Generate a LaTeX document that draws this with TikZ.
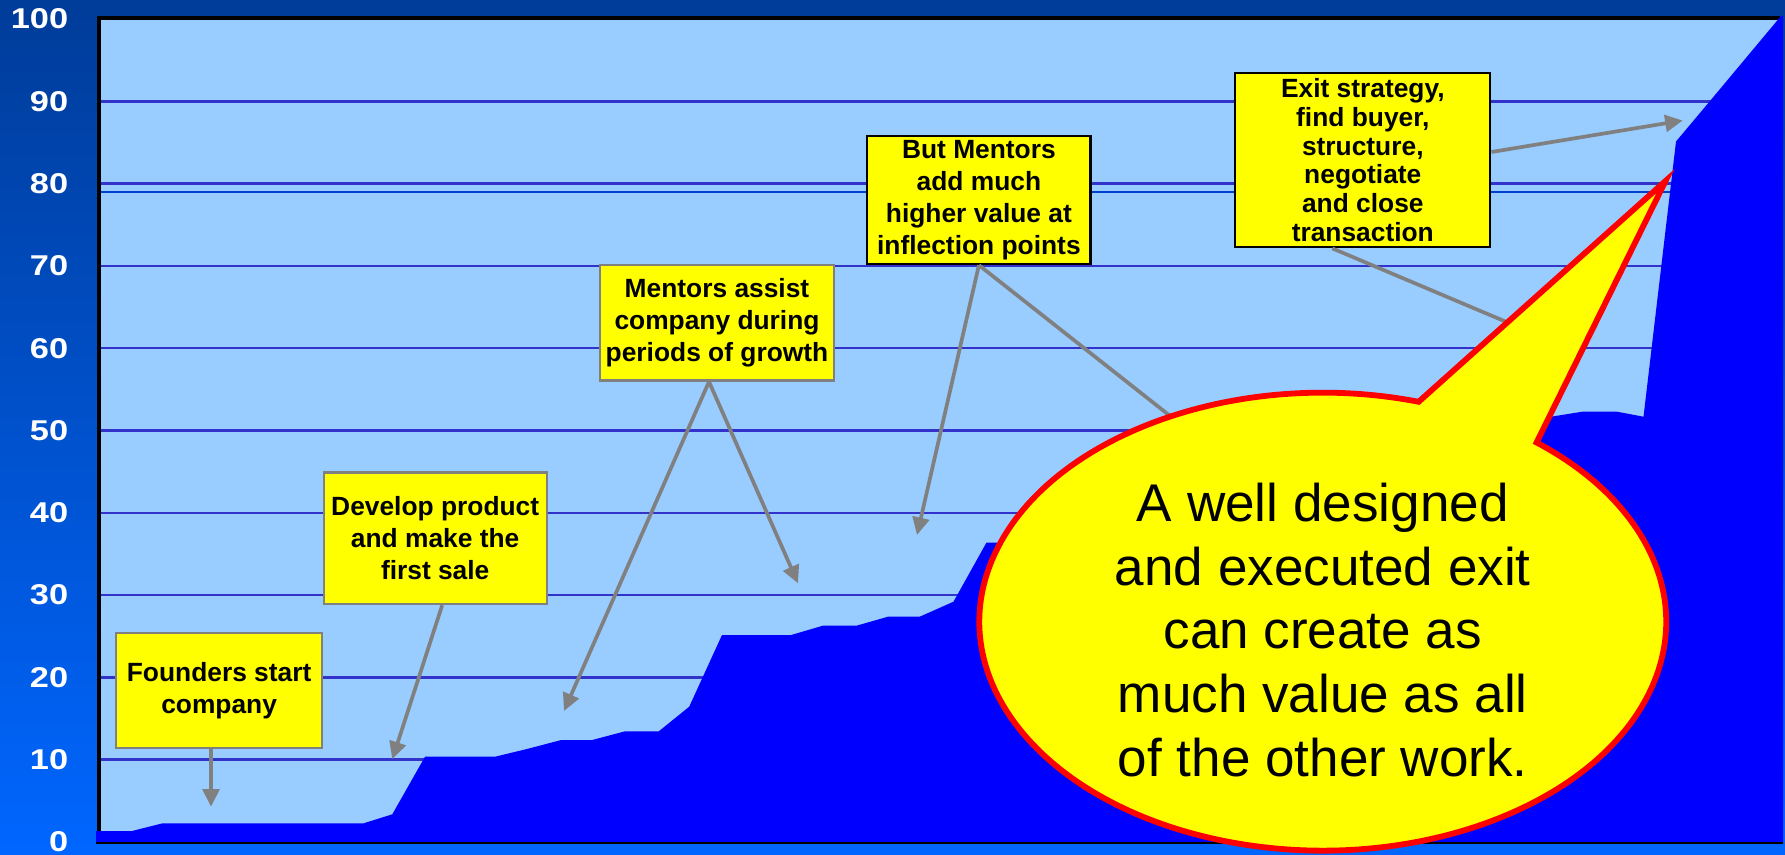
\documentclass[tikz,border=0pt]{standalone}
\usepackage{fontspec}
\usepackage{graphicx}
\setmainfont{Liberation Sans}
\usetikzlibrary{arrows.meta}

\definecolor{bgtop}{HTML}{003C99}
\definecolor{bgbottom}{HTML}{0066FF}
\definecolor{plotfill}{HTML}{99CCFF}
\definecolor{gridblue}{HTML}{3333CC}
\definecolor{thinblue}{HTML}{0040CC}
\definecolor{valuefill}{HTML}{0000FF}
\definecolor{notefill}{HTML}{FFFF00}
\definecolor{pointergray}{HTML}{808080}

% axis digits are set horizontally stretched
\newcommand{\widedigits}[1]{\scalebox{1.2}[1]{#1}}

\tikzset{
  axislabel/.style={anchor=east, inner sep=0pt, text=white,
    font=\bfseries\fontsize{16.3}{18}\selectfont},
  gridline/.style={draw=gridblue, line width=1.4pt},
  notebox/.style={draw=pointergray, fill=notefill, line width=1.3pt,
    align=center, inner sep=0pt,
    font=\bfseries\fontsize{15}{18.2}\selectfont},
  darkbox/.style={notebox, draw=black},
  pointer/.style={draw=pointergray, line width=2.1pt,
    -{Triangle[length=10pt,width=9.5pt]}},
  bubble/.style={fill=notefill, draw=red, line width=3.3pt, line join=miter},
}

\begin{document}
\begin{tikzpicture}[x=0.02cm, y=-0.02cm]
\useasboundingbox (0,0) rectangle (1785,855);

% background and plot area
\shade[top color=bgtop, bottom color=bgbottom] (0,0) rectangle (1785,855);
\fill[plotfill] (99,18) rectangle (1783,843);
\foreach \v in {10,20,...,90}
  \draw[gridline] (101,{842-8.23*\v}) -- (1783,{842-8.23*\v});
\draw[draw=thinblue, line width=0.6pt] (101,192) -- (1783,192);
\draw[line width=2.3pt] (98.9,843) -- (98.9,18) -- (1780,18);

% cumulative value area
\fill[valuefill] (96,843) -- (96,831) -- (132,831) -- (162.6,823.3) -- (363.6,823.3)
  -- (392.3,814.3) -- (425,756.7) -- (495,756.7) -- (527,749) -- (560.5,740.2)
  -- (591.5,740.2) -- (625,731.3) -- (658.8,731.3) -- (689.2,706.7) -- (722,635)
  -- (791.2,635) -- (822.8,625.7) -- (856.5,625.7) -- (888,616.7) -- (919.7,616.7)
  -- (953.5,601.7) -- (986.5,542.5) -- (1020,542.5) -- (1100,500) -- (1200,470)
  -- (1300,450) -- (1400,440) -- (1500,425) -- (1551,416.7) -- (1583.5,411.5)
  -- (1616,411.5) -- (1643.5,416.7) -- (1676,141.5) -- (1710,101) -- (1781,16)
  -- (1783,16) -- (1783,843) -- cycle;
\draw[line width=1.2pt] (96,842.7) -- (1783,842.7);

% value axis labels
\foreach \v in {0,10,...,100}
  \node[axislabel] (y\v) at (68.5,{842-8.23*\v}) {\widedigits{\v}};

% annotation boxes
\node[notebox, minimum width=4.13cm, minimum height=2.31cm] (founders) at (219.1,690.5)
  {Founders start\\company};
\node[notebox, minimum width=4.46cm, minimum height=2.63cm] (develop) at (435.2,538.3)
  {Develop product\\and make the\\first sale};
\node[notebox, minimum width=4.68cm, minimum height=2.31cm] (assist) at (717,322.8)
  {Mentors assist\\company during\\periods of growth};
\node[darkbox, minimum width=4.47cm, minimum height=2.56cm] (inflect) at (978.9,200)
  {But Mentors\\add much\\higher value at\\inflection points};
\node[darkbox, minimum width=5.10cm, minimum height=3.49cm,
  font=\bfseries\fontsize{15}{16.4}\selectfont] (exit) at (1362.8,160)
  {Exit strategy,\\find buyer,\\structure,\\negotiate\\and close\\transaction};

% pointer targets
\coordinate (foundersTip) at (211,806.7);
\coordinate (developTip) at (392.3,759.3);
\coordinate (assistTipA) at (564,711);
\coordinate (assistTipB) at (798,583.3);
\coordinate (inflectTipA) at (917,535);
\coordinate (inflectTipB) at (1250,479);
\coordinate (exitTipA) at (1682.7,120.5);
\coordinate (exitTipB) at (1560,344.6);
\coordinate (bubbleTip) at (1665.5,181);

% pointers
\draw[pointer] (founders.south -| foundersTip) -- (foundersTip);
\draw[pointer] ([xshift=0.14cm]develop.south) -- (developTip);
\draw[pointer] ([xshift=-0.16cm]assist.south) -- (assistTipA);
\draw[pointer] ([xshift=-0.16cm]assist.south) -- (assistTipB);
\draw[pointer] (inflect.south) -- (inflectTipA);
\draw[pointer] (inflect.south) -- (inflectTipB);
\draw[pointer] ([yshift=0.16cm]exit.east) -- (exitTipA);
\draw[pointer] ([xshift=-0.61cm]exit.south) -- (exitTipB);

% speech bubble
\filldraw[bubble] (1418.6,401.8)
  arc[start angle=73.8, end angle=411.5, x radius=6.87cm, y radius=4.58cm]
  -- (bubbleTip) -- cycle;
\node[font=\fontsize{30.2}{36.3}\selectfont, align=center, inner sep=0pt] (message)
  at (1322.8,630)
  {A well designed\\and executed exit\\can create as\\much value as all\\of the other work.};
\end{tikzpicture}
\end{document}
